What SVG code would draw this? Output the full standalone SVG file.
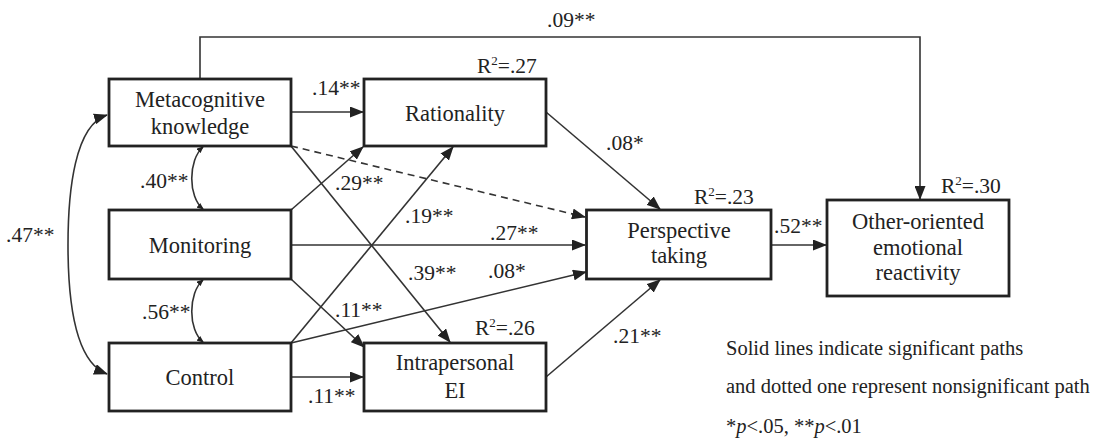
<svg xmlns="http://www.w3.org/2000/svg" width="1101" height="440" viewBox="0 0 1101 440">
<style>
.box{fill:#fff;stroke:#222;stroke-width:2.8}
.nt{font-family:"Liberation Serif","Times New Roman",serif;font-size:22.5px;fill:#222;text-anchor:middle}
.lb{font-family:"Liberation Serif","Times New Roman",serif;font-size:21.5px;fill:#222}
.lg{font-family:"Liberation Serif","Times New Roman",serif;font-size:20.5px;fill:#222}
.c{fill:none;stroke:#333;stroke-width:1.6}
.d{stroke-dasharray:7,5}
</style>
<defs>
<marker id="ah" markerUnits="userSpaceOnUse" markerWidth="14" markerHeight="11" refX="13" refY="5.5" orient="auto-start-reverse" viewBox="0 0 14 11">
<path d="M0,0 L14,5.5 L0,11 z" fill="#222"/>
</marker>
<marker id="sm" markerUnits="userSpaceOnUse" markerWidth="7" markerHeight="6" refX="6" refY="3" orient="auto-start-reverse" viewBox="0 0 7 6">
<path d="M0,0 L7,3 L0,6 z" fill="#222"/>
</marker>
</defs>
<g id="connectors">
<path class="c" d="M200,79 V37 H920 V199" marker-end="url(#ah)"/>
<path class="c" d="M291,112 H363" marker-end="url(#ah)"/>
<path class="c d" d="M291,146 L585,217" marker-end="url(#ah)"/>
<path class="c" d="M291,146 L450,342" marker-end="url(#ah)"/>
<path class="c" d="M291,210 L363,147" marker-end="url(#ah)"/>
<path class="c" d="M291,245 H585" marker-end="url(#ah)"/>
<path class="c" d="M291,279 L364,347" marker-end="url(#ah)"/>
<path class="c" d="M291,343 L453,147" marker-end="url(#ah)"/>
<path class="c" d="M291,343 L586,272" marker-end="url(#ah)"/>
<path class="c" d="M291,377 H363" marker-end="url(#ah)"/>
<path class="c" d="M546,112 L660,209" marker-end="url(#ah)"/>
<path class="c" d="M546,377 L660,280" marker-end="url(#ah)"/>
<path class="c" d="M771,245 H826" marker-end="url(#ah)"/>
<path class="c" d="M203,147 C188,160 188,197 203,209" marker-start="url(#sm)" marker-end="url(#sm)"/>
<path class="c" d="M203,280 C188,293 188,330 203,342" marker-start="url(#sm)" marker-end="url(#sm)"/>
<path class="c" d="M107,115 C75,125 68,190 68,245 C68,300 75,362 107,374" marker-start="url(#ah)" marker-end="url(#ah)"/>
</g>
<g id="meta"><rect class="box" x="109" y="79" width="182" height="67"/><text class="nt" x="200" y="107">Metacognitive</text><text class="nt" x="200" y="134">knowledge</text></g>
<g id="monitoring"><rect class="box" x="109" y="210" width="182" height="69"/><text class="nt" x="200" y="253">Monitoring</text></g>
<g id="control"><rect class="box" x="109" y="343" width="182" height="68"/><text class="nt" x="200" y="385">Control</text></g>
<g id="rationality"><rect class="box" x="364" y="79" width="182" height="67"/><text class="nt" x="455" y="121">Rationality</text></g>
<g id="intrapersonal"><rect class="box" x="364" y="343" width="182" height="68"/><text class="nt" x="455" y="370">Intrapersonal</text><text class="nt" x="455" y="398">EI</text></g>
<g id="perspective"><rect class="box" x="586.5" y="210" width="184.5" height="69"/><text class="nt" x="679" y="238">Perspective</text><text class="nt" x="679" y="263">taking</text></g>
<g id="other"><rect class="box" x="827" y="200" width="182" height="96"/><text class="nt" x="918" y="229">Other-oriented</text><text class="nt" x="918" y="255">emotional</text><text class="nt" x="918" y="280">reactivity</text></g>
<g id="labels">
<text class="lb" x="547" y="27">.09**</text>
<text class="lb" x="477" y="73">R<tspan font-size="13" dy="-8">2</tspan><tspan dy="8">=.27</tspan></text>
<text class="lb" x="312" y="95">.14**</text>
<text class="lb" x="606" y="150">.08*</text>
<text class="lb" x="694" y="204">R<tspan font-size="13" dy="-8">2</tspan><tspan dy="8">=.23</tspan></text>
<text class="lb" x="941" y="193">R<tspan font-size="13" dy="-8">2</tspan><tspan dy="8">=.30</tspan></text>
<text class="lb" x="140" y="188">.40**</text>
<text class="lb" x="335" y="190">.29**</text>
<text class="lb" x="405" y="223">.19**</text>
<text class="lb" x="490" y="240">.27**</text>
<text class="lb" x="6" y="242">.47**</text>
<text class="lb" x="774" y="233">.52**</text>
<text class="lb" x="408" y="280">.39**</text>
<text class="lb" x="488" y="278">.08*</text>
<text class="lb" x="335" y="317">.11**</text>
<text class="lb" x="142" y="319">.56**</text>
<text class="lb" x="475" y="335">R<tspan font-size="13" dy="-8">2</tspan><tspan dy="8">=.26</tspan></text>
<text class="lb" x="613" y="343">.21**</text>
<text class="lb" x="308" y="403">.11**</text>
</g>
<g id="legend">
<text class="lg" x="726" y="355">Solid lines indicate significant paths</text>
<text class="lg" x="726" y="393">and dotted one represent nonsignificant path</text>
<text class="lg" x="726" y="433">*<tspan font-style="italic">p</tspan>&lt;.05, **<tspan font-style="italic">p</tspan>&lt;.01</text>
</g>
</svg>
